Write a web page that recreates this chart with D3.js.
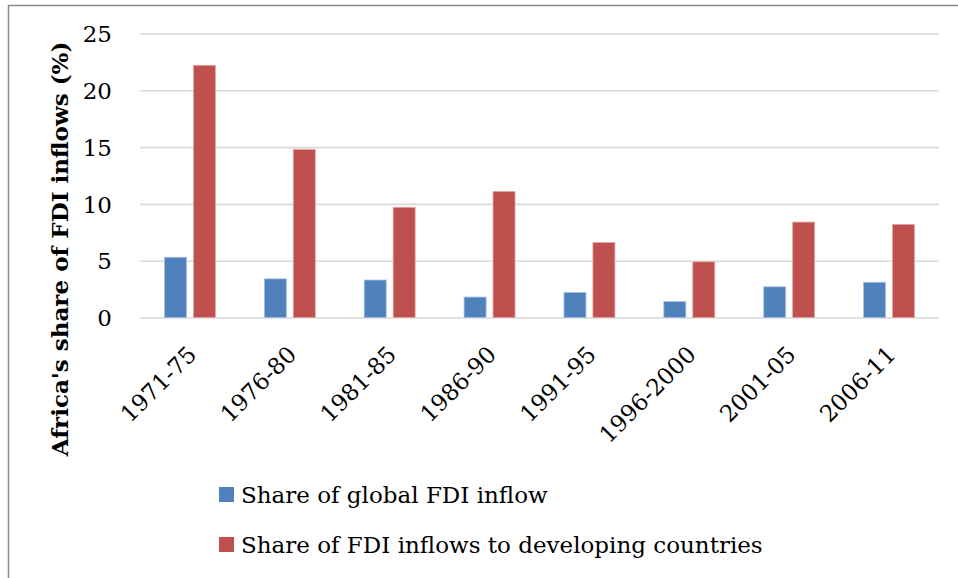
<!DOCTYPE html>
<html>
<head>
<meta charset="utf-8">
<script src="https://cdn.jsdelivr.net/npm/d3@7"></script>
<style>
  body { margin: 0; background: #fff; }
  svg text { font-family: "DejaVu Serif", "Liberation Serif", serif; }
</style>
</head>
<body>
<div id="viz"></div>
<script>
var periods = ['1971-75', '1976-80', '1981-85', '1986-90', '1991-95', '1996-2000', '2001-05', '2006-11'];
var globalShare = [5.3, 3.4, 3.3, 1.8, 2.2, 1.4, 2.7, 3.1];
var developingShare = [22.2, 14.8, 9.7, 11.1, 6.6, 4.9, 8.4, 8.2];
var seriesNames = ['Share of global FDI inflow', 'Share of FDI inflows to developing countries'];
var seriesColors = ['#4F81BD', '#C0504D'];
var yTicks = [0, 5, 10, 15, 20, 25];

var chart = {width: 958, height: 578};

var svg = d3.select('#viz')
  .append('svg')
  .attr('width', chart.width)
  .attr('height', chart.height)

// frame of the pasted figure
svg.append('path')
  .attr('d', 'M8.5,' + chart.height + 'V5.5H' + chart.width)
  .attr('fill', 'none')
  .attr('stroke', '#8c8c8c')
  .attr('stroke-width', 1.5)

var x = d3.scaleBand()
  .domain(periods)
  .range([140, 939])
  .paddingInner(0.49)
  .paddingOuter(0.245);

var xInner = d3.scaleBand()
  .domain([0, 1])
  .range([0, x.bandwidth()])
  .paddingInner(0.24);

var y = d3.scaleLinear()
  .domain([0, 25])
  .range([317.5, 33.5]);

// gridlines + tick labels
var yAxis = d3.axisLeft(y)
  .tickValues(yTicks)
  .tickSize(-(939 - 140))
  .tickPadding(28)
  .tickFormat(d3.format('d'));

var gy = svg.append('g')
  .attr('transform', 'translate(140,0)')
  .call(yAxis);
gy.select('.domain').remove();
gy.selectAll('.tick line').attr('stroke', '#d9d9d9').attr('stroke-width', 1.6);
gy.selectAll('.tick text')
  .attr('fill', '#000')
  .style('font-size', '23px')
  .attr('dy', '0.36em');

// bars
var rows = periods.map((p, i) => ({period: p, values: [globalShare[i], developingShare[i]]}));

var groups = svg.append('g')
  .selectAll('g')
  .data(rows)
  .enter()
  .append('g')
  .attr('transform', (d) => 'translate(' + x(d.period) + ',0)');

groups.selectAll('rect')
  .data((d) => d.values.map((v, k) => ({k: k, v: v})))
  .enter()
  .append('rect')
  .attr('x', (d) => xInner(d.k))
  .attr('width', xInner.bandwidth())
  .attr('y', (d) => y(d.v))
  .attr('height', (d) => y(0) - y(d.v))
  .attr('fill', (d) => seriesColors[d.k])
  .attr('stroke', (d) => d.k === 0 ? '#a9c0df' : '#e0a8a6')
  .attr('stroke-width', 0.8);

// category labels, rotated like Excel does
svg.append('g')
  .selectAll('text')
  .data(periods)
  .enter()
  .append('text')
  .attr('transform', (d) => 'translate(' + (x(d) + x.bandwidth() / 2 + 8) + ',356) rotate(-45)')
  .attr('text-anchor', 'end')
  .style('font-size', '23px')
  .text((d) => d);

// y axis title
svg.append('text')
  .attr('transform', 'translate(68,249) rotate(-90)')
  .attr('text-anchor', 'middle')
  .style('font-size', '23px')
  .style('font-weight', 'bold')
  .text("Africa's share of FDI inflows (%)");

// legend
var legend = svg.append('g')
  .attr('id', 'legend')
  .attr('transform', 'translate(219,0)');

var li = legend.selectAll('g')
  .data(seriesNames)
  .enter()
  .append('g')
  .attr('transform', (d, i) => 'translate(0,' + (494 + i * 50) + ')');

li.append('rect')
  .attr('x', 0)
  .attr('y', -7)
  .attr('width', 15)
  .attr('height', 15)
  .attr('fill', (d, i) => seriesColors[i]);

li.append('text')
  .attr('x', 22)
  .attr('y', 9)
  .style('font-size', '23px')
  .text((d) => d);
</script>
</body>
</html>
